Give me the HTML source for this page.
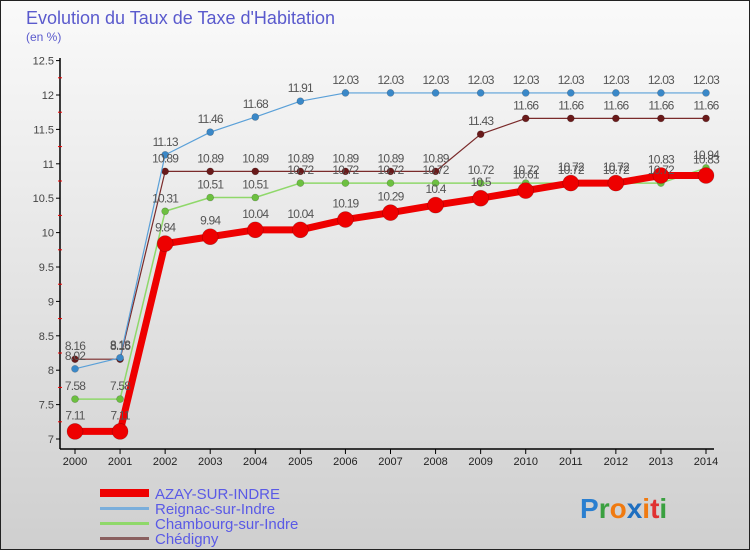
<!DOCTYPE html>
<html><head><meta charset="utf-8"><style>
body{margin:0;width:750px;height:550px;overflow:hidden;font-family:"Liberation Sans",sans-serif}
svg text{font-family:"Liberation Sans",sans-serif}
</style></head><body>
<svg id="chart" width="750" height="550" xmlns="http://www.w3.org/2000/svg">
<defs><linearGradient id="bg" x1="0" y1="0" x2="0" y2="1"><stop offset="0" stop-color="#fafafa"/><stop offset="1" stop-color="#cfcfcf"/></linearGradient></defs>
<rect x="0.5" y="0.5" width="749" height="549" fill="url(#bg)" stroke="#222"/>
<text x="26" y="24" font-size="18" fill="#5a5acd">Evolution du Taux de Taxe d'Habitation</text>
<text x="26" y="41" font-size="12" fill="#5a5acd">(en %)</text>
<g id="axes"></g><g id="series"></g><g id="labels"></g>
<g font-size="15" fill="#5a5ae6">
<rect x="100" y="489" width="49" height="8" fill="#e00"/>
<text x="155" y="499">AZAY-SUR-INDRE</text>
<rect x="100" y="507" width="49" height="3" fill="#7aaedb"/>
<text x="155" y="514">Reignac-sur-Indre</text>
<rect x="100" y="522" width="49" height="3" fill="#8fd86a"/>
<text x="155" y="529">Chambourg-sur-Indre</text>
<rect x="100" y="537" width="49" height="3" fill="#8a6060"/>
<text x="155" y="544">Chédigny</text>
</g>
<text x="580" y="518" font-size="28" font-family="DejaVu Sans" font-weight="bold"><tspan fill="#2a7fd0">P</tspan><tspan fill="#3aa040">r</tspan><tspan fill="#f07a10">o</tspan><tspan fill="#1f6fc0">x</tspan><tspan fill="#f07a10">i</tspan><tspan fill="#e03030">t</tspan><tspan fill="#3aa040">i</tspan></text>
</svg>
<script>
const years=[2000,2001,2002,2003,2004,2005,2006,2007,2008,2009,2010,2011,2012,2013,2014];
const yTicks=[7,7.5,8,8.5,9,9.5,10,10.5,11,11.5,12,12.5];
const azay=[7.11,7.11,9.84,9.94,10.04,10.04,10.19,10.29,10.4,10.5,10.61,10.72,10.72,10.83,10.83];
const reignac=[8.02,8.18,11.13,11.46,11.68,11.91,12.03,12.03,12.03,12.03,12.03,12.03,12.03,12.03,12.03];
const chambourg=[7.58,7.58,10.31,10.51,10.51,10.72,10.72,10.72,10.72,10.72,10.72,10.72,10.72,10.72,10.94];
const chedigny=[8.16,8.16,10.89,10.89,10.89,10.89,10.89,10.89,10.89,11.43,11.66,11.66,11.66,11.66,11.66];
const NS="http://www.w3.org/2000/svg";
const x=i=>75+i*(706-75)/14;
const y=v=>439-(v-7)*68.8;
function mk(tag,attrs,parent){const e=document.createElementNS(NS,tag);for(const k in attrs)e.setAttribute(k,attrs[k]);parent.appendChild(e);return e;}
const axes=document.getElementById('axes');
let a=mk('line',{x1:60,y1:58,x2:60,y2:449,stroke:'#000','stroke-width':1.5},axes);


a=mk('line',{x1:60,y1:449,x2:714,y2:449,stroke:'#000','stroke-width':1.5},axes);


yTicks.forEach((v,k)=>{
  mk('line',{x1:56,x2:60,y1:y(v),y2:y(v),stroke:'#000'},axes);
  if(k<yTicks.length-1) mk('line',{x1:58,x2:62,y1:y(v)-17.2,y2:y(v)-17.2,stroke:'#e00'},axes);
  const t=mk('text',{x:54,y:y(v)+4,'font-size':11,'text-anchor':'end',fill:'#444'},axes);
  
  
  t.textContent=v;
});
years.forEach((yr,i)=>{
  mk('line',{x1:x(i),x2:x(i),y1:449,y2:454,stroke:'#000'},axes);
  const t=mk('text',{x:x(i),y:465,'font-size':11,'text-anchor':'middle',fill:'#222'},axes);
  
  
  t.textContent=yr;
});
const ser=document.getElementById('series'),lab=document.getElementById('labels');
const defs=[['chedigny',chedigny,'#7a2a2a','#6a1a1a',1.2,3.5],['chambourg',chambourg,'#8fd86a','#6cc040',1.5,3.5],['reignac',reignac,'#5aa0d8','#3a88c8',1.2,3.5],['azay',azay,'#e00','#e00',7,8]];
defs.forEach(([name,d,lc,pc,w,r])=>{
  const g=mk('g',{},ser);
  
  
  const p=mk('polyline',{points:d.map((v,i)=>x(i)+','+y(v)).join(' '),fill:'none',stroke:lc,'stroke-width':w,'stroke-linejoin':'round'},g);
  
  
  d.forEach((v,i)=>{
    const c=mk('circle',{cx:x(i),cy:y(v),r:r,fill:pc,stroke:'rgba(0,0,0,0.25)','stroke-width':0.6},g);
    
    
    const t=mk('text',{x:x(i),y:y(v)-(name==='azay'?12:9),'font-size':12,'text-anchor':'middle',fill:'#555','letter-spacing':'-0.8'},lab);
    
    
    t.textContent=v;
  });
});
</script>
</body></html>
